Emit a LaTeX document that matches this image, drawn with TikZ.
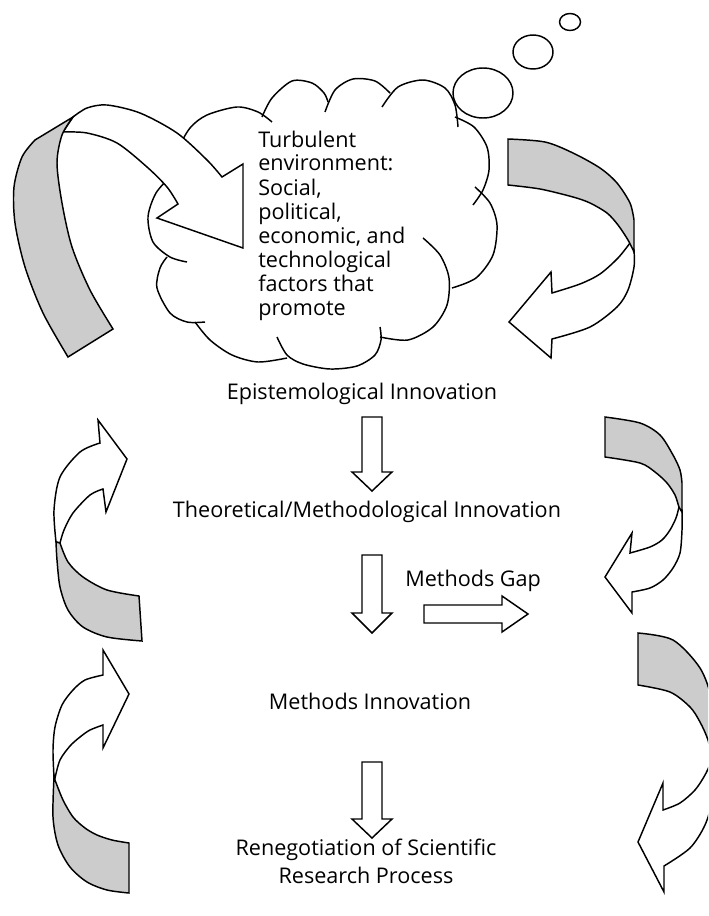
\documentclass[tikz,border=0pt]{standalone}
\usepackage{fontspec}
\setmainfont{Open Sans}
\begin{document}
\begin{tikzpicture}[x=0.75pt,y=-0.75pt,
  ol/.style={line width=1.1pt, line join=miter, draw=black},
  rib/.style={ol, fill=white},
  ribg/.style={ol, fill=black!20},
  blk/.style={ol, fill=white},
  cl/.style={line width=1.1pt, draw=black},
  lbl/.style={font=\fontsize{16.2}{18}\selectfont, inner sep=0pt},
]
\useasboundingbox (0,0) rectangle (708,916);
\clip (0,0) rectangle (708,916);

% ---------- cloud ----------
\draw[cl] plot[smooth] coordinates {(187,262) (170,257) (153,242) (148,217) (156,193) (172,175)};
\draw[cl] plot[smooth] coordinates {(172,175) (178,150) (190,128) (207,115) (237,107) (258,112) (272,122)};
\draw[cl] plot[smooth] coordinates {(262,117) (272,98) (292,81) (312,83) (324,93) (328,102)};
\draw[cl] plot[smooth] coordinates {(325,112) (335,90) (353,79) (375,81) (390,93)};
\draw[cl] plot[smooth] coordinates {(382,107) (398,87) (423,80) (445,88) (455,105) (458,127)};
\draw[cl] plot[smooth] coordinates {(455,117) (474,127) (487,147) (489,170) (483,190) (473,205)};
\draw[cl] plot[smooth] coordinates {(475,187) (490,203) (497,225) (493,255) (476,278) (452,288)};
\draw[cl] plot[smooth] coordinates {(423,238) (440,255) (449,278) (447,305) (433,327) (408,340) (380,337)};
\draw[cl] plot[smooth] coordinates {(380,327) (381,340) (375,355) (357,366) (330,369) (303,364) (287,355) (277,337)};
\draw[cl] plot[smooth] coordinates {(287,358) (258,362) (232,355) (210,340) (195,322)};
\draw[cl] plot[smooth] coordinates {(205,322) (187,322) (170,313) (157,288) (160,268) (167,257)};
% thought bubbles
\filldraw[cl, fill=white] (483,93) ellipse [x radius=30, y radius=25];
\draw[cl] (533,52) ellipse [x radius=20, y radius=17];
\draw[cl] (570,22) ellipse [x radius=10.5, y radius=8.5];

\node[lbl, anchor=base west, align=left] (cloudtext) at (258,315)
  {Turbulent\\environment:\\Social,\\political,\\economic, and\\technological\\factors that\\promote};

% ---------- top-left ribbon arrow ----------
\filldraw[rib] (73,117) -- plot[smooth] coordinates {(73,117) (87,108) (107,105) (140,113) (177,133) (207,160) (222,177)}
  -- (243,164) -- (243,248) -- (157,218) -- (178,204)
  -- plot[smooth] coordinates {(178,204) (167,187) (147,167) (117,143) (87,133) (63,132)} -- cycle;
\filldraw[ribg] plot[smooth] coordinates {(68,357) (43,313) (25,267) (15,223) (14,187) (22,157) (35,140)}
  -- (73,117) -- plot[smooth] coordinates {(73,117) (62,135) (57,163) (62,203) (72,247) (90,290) (113,329)} -- cycle;

% ---------- top-right ribbon arrow ----------
\filldraw[rib] (634,250) -- plot[smooth] coordinates {(634,250) (634,267) (628,290) (617,307) (590,327) (552,339)}
  -- (551,358) -- (509,322) -- (551,272) -- (552,293)
  -- plot[smooth] coordinates {(552,293) (580,284) (600,274) (618,258) (630,243)} -- cycle;
\filldraw[ribg] (508,139) -- plot[smooth] coordinates {(508,139) (545,142) (573,153) (600,168) (617,183) (630,203) (634,220)}
  -- (634,252) -- plot[smooth] coordinates {(634,252) (628,240) (618,225) (607,213) (590,203) (573,197) (540,189) (508,185)} -- cycle;

% ---------- left-middle ribbon arrow ----------
\filldraw[rib] (56,542) -- plot[smooth] coordinates {(56,542) (54,510) (60,477) (80,452) (100,443)}
  -- (98,420) -- (127,459) -- (106,512) -- (103,489)
  -- plot[smooth] coordinates {(103,489) (90,495) (73,513) (64,530) (60,543)} -- cycle;
\filldraw[ribg] plot[smooth] coordinates {(142,641) (107,637) (83,627) (68,610) (60,587) (57,560) (56,542)}
  -- plot[smooth] coordinates {(60,543) (68,562) (83,577) (107,590) (139,596)} -- cycle;

% ---------- left-bottom ribbon arrow ----------
\filldraw[rib] (54,777) -- plot[smooth] coordinates {(54,777) (53,750) (55,727) (62,705) (73,690) (85,680) (103,675)}
  -- (103,650) -- (129,694) -- (103,748) -- (103,725)
  -- plot[smooth] coordinates {(103,725) (90,730) (80,737) (70,746) (60,760) (55,778)} -- cycle;
\filldraw[ribg] plot[smooth] coordinates {(54,777) (53,817) (58,845) (70,867) (87,882) (107,890) (129,893)}
  -- (129,843) -- plot[smooth] coordinates {(129,843) (112,840) (97,835) (85,828) (73,817) (63,800) (55,780)} -- cycle;

% ---------- right-middle ribbon arrow ----------
\filldraw[rib] (682,510) -- plot[smooth] coordinates {(682,510) (682,530) (680,553) (673,568) (663,580) (650,588) (632,592)}
  -- (632,613) -- (605,577) -- (632,533) -- (630,553)
  -- plot[smooth] coordinates {(630,553) (650,547) (662,540) (670,530) (676,518) (679,507)} -- cycle;
\filldraw[ribg] (605,417) -- plot[smooth] coordinates {(605,417) (640,423) (660,435) (673,455) (680,470) (682,483)}
  -- (682,512) -- plot[smooth] coordinates {(682,512) (679,507) (675,495) (667,483) (655,472) (640,463) (605,457)} -- cycle;

% ---------- right-bottom ribbon arrow ----------
\filldraw[rib] (714,765) -- plot[smooth] coordinates {(714,765) (712,800) (705,825) (690,848) (664,866)}
  -- (664,892) -- (638,842) -- (663,783) -- (663,810)
  -- plot[smooth] coordinates {(663,810) (680,803) (695,790) (705,775) (712,760)} -- cycle;
\filldraw[ribg] (638,633) -- plot[smooth] coordinates {(638,633) (673,640) (700,668) (712,700) (714,730)}
  -- (714,767) -- plot[smooth] coordinates {(714,767) (712,760) (708,740) (700,722) (690,707) (670,692) (638,685)} -- cycle;

% ---------- labels ----------
\node[lbl, anchor=base] (epi) at (362,399) {Epistemological Innovation};
\node[lbl, anchor=base] (theo) at (367,517) {Theoretical/Methodological Innovation};
\node[lbl, anchor=base west] (gap) at (405,586) {Methods Gap};
\node[lbl, anchor=base] (meth) at (370,709) {Methods Innovation};
\node[lbl, anchor=base, align=center, font=\fontsize{16.2}{21}\selectfont] (reneg) at (366,883)
  {Renegotiation of Scientific\\Research Process};

% ---------- block arrows ----------
\filldraw[blk] (362,417) -- (382,417) -- (382,472) -- (392,472) -- (372,491) -- (352,472) -- (362,472) -- cycle;
\filldraw[blk] (362,555) -- (382,555) -- (382,613) -- (392,613) -- (372,633) -- (352,613) -- (362,613) -- cycle;
\filldraw[blk] (362,762) -- (382,762) -- (382,819) -- (392,819) -- (372,838) -- (352,819) -- (362,819) -- cycle;
\filldraw[blk] (424,605) -- (502,605) -- (502,596) -- (528,614) -- (502,632) -- (502,623) -- (424,623) -- cycle;
\end{tikzpicture}
\end{document}
